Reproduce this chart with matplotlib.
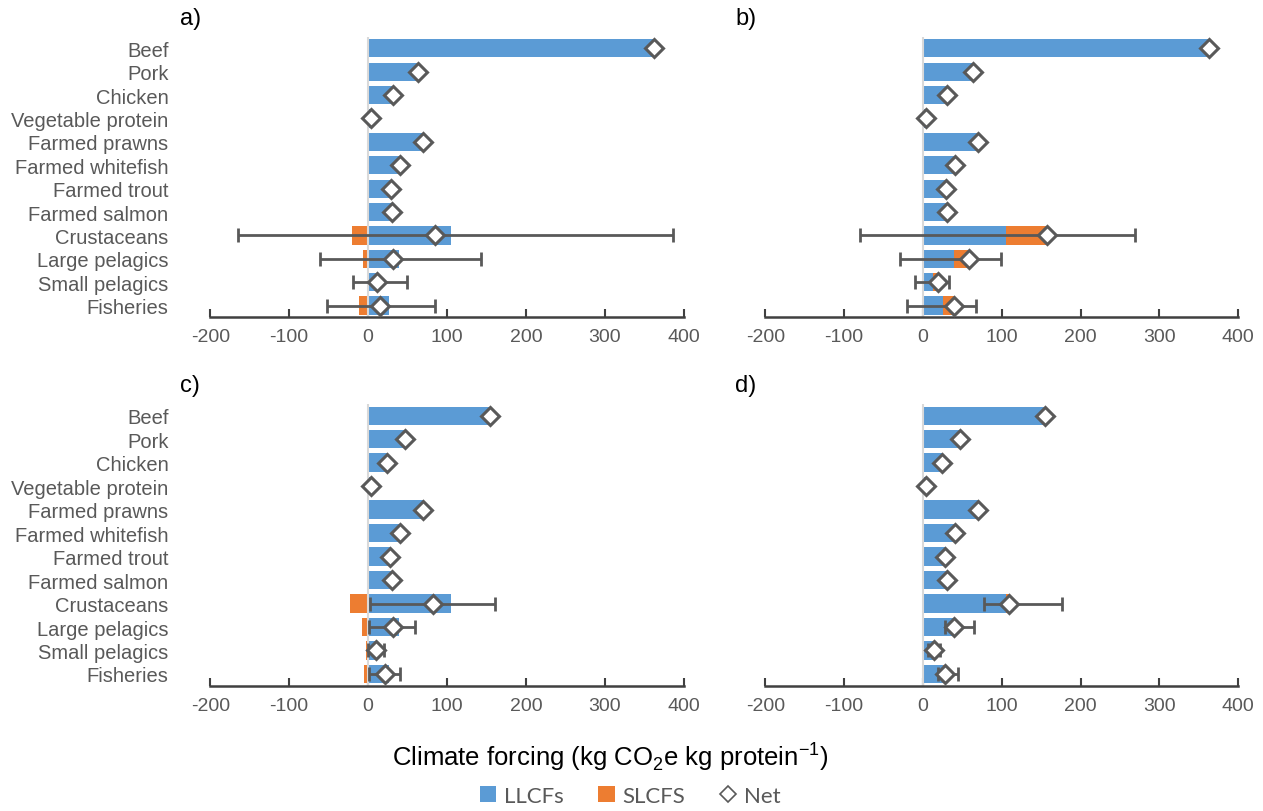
import numpy as np
import matplotlib
matplotlib.use("Agg")
import matplotlib.pyplot as plt
from matplotlib.lines import Line2D
from matplotlib.patches import Patch

plt.rcParams["font.family"] = ["Liberation Sans", "DejaVu Sans"]
plt.rcParams["mathtext.fontset"] = "custom"
plt.rcParams["mathtext.rm"] = "Liberation Sans"

categories = ["Beef", "Pork", "Chicken", "Vegetable protein", "Farmed prawns",
              "Farmed whitefish", "Farmed trout", "Farmed salmon", "Crustaceans",
              "Large pelagics", "Small pelagics", "Fisheries"]

# Long-lived climate forcers (kg CO2e per kg protein)
llcf_ab = [363, 63, 31, 4, 70, 41, 29, 30, 105, 39, 13, 26]
llcf_cd = [155, 47, 24, 4, 70, 41, 28, 30, 105, 39, 13, 26]

# Short-lived climate forcers
slcf_a = [0, 0, 0, 0, 0, 0, 0, 0, -20, -7, -2, -11]
slcf_b = [0, 0, 0, 0, 0, 0, 0, 0, 52, 19, 6, 13]
slcf_c = [0, 0, 0, 0, 0, 0, 0, 0, -23, -8, -3, -5]
slcf_d = [0, 0, 0, 0, 0, 0, 0, 0, 4, 1, 1, 1.5]

# Uncertainty ranges of the net value (wild-caught groups only)
err_rows = ["Crustaceans", "Large pelagics", "Small pelagics", "Fisheries"]
low_a = [-165, -61, -19, -52]
high_a = [387, 143, 49, 85]
low_b = [-80, -29, -10, -20]
high_b = [269, 99, 33, 67]
low_c = [3, 1.5, 0, 1]
high_c = [161, 60, 20, 41]
low_d = [78, 28, 6, 19]
high_d = [177, 65, 22, 44]

panel_labels = ["a)", "b)", "c)", "d)"]
xticks = [-200, -100, 0, 100, 200, 300, 400]

BLUE = "#5B9BD5"
ORANGE = "#ED7D31"
DARK = "#595959"
GREY_TXT = "#595959"

fig = plt.figure(figsize=(12.63, 8.12), dpi=100)

axes_pos = [
    [0.1665, 0.608, 0.3748, 0.3457],
    [0.6059, 0.608, 0.3745, 0.3457],
    [0.1665, 0.1543, 0.3748, 0.3470],
    [0.6059, 0.1543, 0.3745, 0.3470],
]

panels = [
    (llcf_ab, slcf_a, low_a, high_a),
    (llcf_ab, slcf_b, low_b, high_b),
    (llcf_cd, slcf_c, low_c, high_c),
    (llcf_cd, slcf_d, low_d, high_d),
]

ypos = np.arange(len(categories))
err_idx = [categories.index(r) for r in err_rows]

for i, (pos, (ll, sl, lo, hi)) in enumerate(zip(axes_pos, panels)):
    ax = fig.add_axes(pos)
    ll = np.array(ll, dtype=float)
    sl = np.array(sl, dtype=float)
    net = ll + sl

    # stacked bars: positive SLCF sits on top of LLCF, negative goes left of zero
    sl_left = np.where(sl >= 0, ll, 0)
    ax.barh(ypos, ll, height=0.78, color=BLUE, zorder=2)
    ax.barh(ypos, sl, left=sl_left, height=0.78, color=ORANGE, zorder=2)

    ax.axvline(0, color="#D9D9D9", lw=1.5, zorder=2.5)

    en = net[err_idx]
    xerr = [en - np.array(lo), np.array(hi) - en]
    ax.errorbar(en, ypos[err_idx], xerr=xerr, fmt="none", ecolor=DARK,
                elinewidth=2, capsize=5, capthick=2, zorder=3)

    ax.plot(net, ypos, linestyle="none", marker="D", markersize=9.5,
            markerfacecolor="white", markeredgecolor=DARK, markeredgewidth=2.2,
            zorder=4)

    ax.set_xlim(-200, 400)
    ax.set_ylim(11.5, -0.5)
    ax.set_xticks(xticks)
    ax.set_xticklabels([str(t) for t in xticks], fontsize=14, color=GREY_TXT)
    ax.tick_params(axis="x", direction="in", length=6, width=1.5, colors="#404040",
                   labelcolor=GREY_TXT, pad=8)

    for s in ["top", "right", "left"]:
        ax.spines[s].set_visible(False)
    ax.spines["bottom"].set_color("#404040")
    ax.spines["bottom"].set_linewidth(1.8)

    ax.set_yticks(ypos)
    if i % 2 == 0:
        ax.set_yticklabels(categories, fontsize=14.5, color=GREY_TXT)
        ax.tick_params(axis="y", length=0, pad=30)
    else:
        ax.set_yticklabels([])
        ax.tick_params(axis="y", length=0)

    fx = pos[0] - 0.024
    fy = pos[1] + pos[3] + 0.023
    fig.text(fx, fy, panel_labels[i], fontsize=17, ha="left", va="center",
             color="black")

fig.text(0.483, 0.068,
         "Climate forcing (kg CO$_\\mathregular{2}$e kg protein$^\\mathregular{-1}$)",
         fontsize=18.5, ha="center", va="center", color="black")

handles = [
    Patch(facecolor=BLUE, edgecolor="none", label="LLCFs"),
    Patch(facecolor=ORANGE, edgecolor="none", label="SLCFS"),
    Line2D([], [], linestyle="none", marker="D", markersize=8,
           markerfacecolor="white", markeredgecolor=DARK, markeredgewidth=1.2,
           label="Net"),
]
leg = fig.legend(handles=handles, loc="center", bbox_to_anchor=(0.499, 0.0185),
                 ncol=3, frameon=False, handlelength=0.75, handleheight=0.75,
                 handletextpad=0.35, columnspacing=1.55,
                 prop={"family": ["Lato", "DejaVu Sans"], "size": 16})
for t in leg.get_texts():
    t.set_color(GREY_TXT)

fig.savefig("out.png", dpi=100)
